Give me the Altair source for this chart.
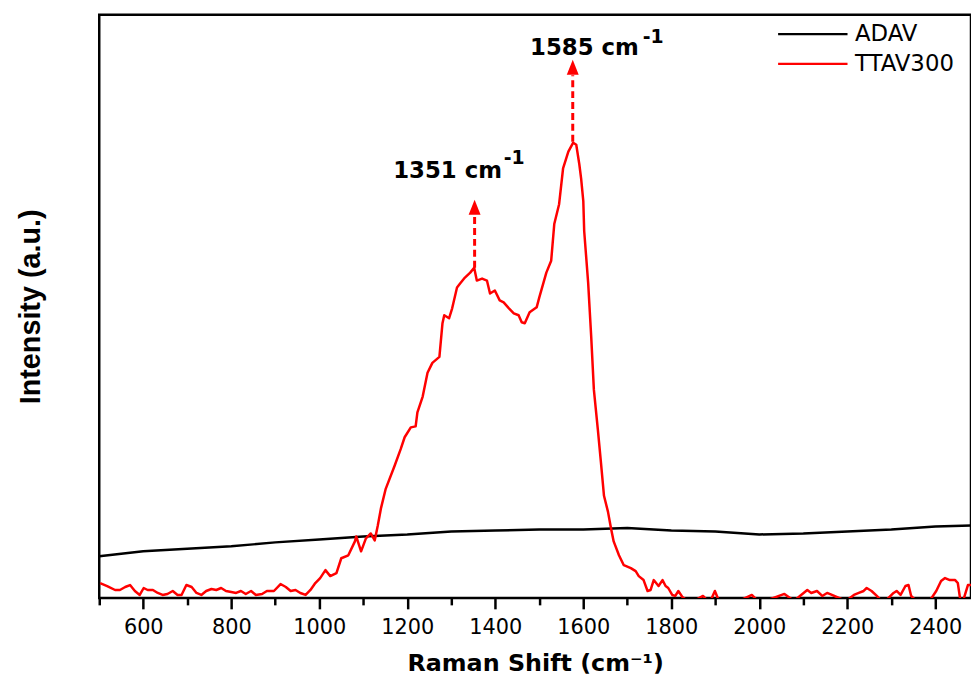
import altair as alt
import pandas as pd

# ---------------- data ----------------
series_names = ["ADAV", "TTAV300"]
series_colors = ["#000000", "#ff0000"]

adav_x = [500, 600, 700, 800, 900, 1000, 1100, 1200, 1300, 1400, 1500, 1600,
          1700, 1800, 1900, 2000, 2100, 2200, 2300, 2400, 2483]
adav_y = [42, 47, 49.5, 52, 56, 59, 62, 64, 67, 68, 69, 69,
          70.5, 68, 67, 64, 65, 67, 69, 72, 73]

ttav_x = [502, 518, 536, 547, 559, 570, 581, 592, 601, 610, 622, 633, 644, 655, 667, 678, 687,
          698, 710, 721, 732, 743, 755, 766, 777, 788, 800, 811, 822, 833, 845, 856, 870, 881,
          897, 912, 924, 935, 946, 957, 969, 980, 991, 1002, 1014, 1025, 1039, 1050, 1066,
          1081, 1084, 1095, 1106, 1117, 1126, 1133, 1140, 1151, 1171, 1185, 1194, 1208, 1219,
          1223, 1235, 1246, 1257, 1273, 1280, 1284, 1295, 1302, 1313, 1320, 1331, 1343, 1352,
          1358, 1370, 1381, 1388, 1399, 1410, 1419, 1431, 1442, 1453, 1460, 1467, 1478, 1494,
          1500, 1516, 1527, 1534, 1545, 1554, 1566, 1577, 1584, 1591, 1595, 1600, 1602, 1611,
          1618, 1624, 1633, 1640, 1647, 1656, 1663, 1669, 1681, 1692, 1708, 1719, 1726, 1737,
          1746, 1753, 1760, 1771, 1780, 1787, 1793, 1802, 1809, 1816, 1825, 1843, 1872, 1887,
          1899, 1910, 1944, 1983, 2001, 2057, 2079, 2095, 2109, 2118, 2131, 2143, 2154, 2165,
          2181, 2197, 2215, 2226, 2237, 2244, 2255, 2267, 2282, 2305, 2312, 2321, 2332, 2339,
          2345, 2361, 2384, 2402, 2413, 2422, 2433, 2445, 2451, 2456, 2463, 2474, 2483]
ttav_y = [15, 12, 8, 8, 11, 13, 7, 3, 10, 8, 8, 5, 3, 4, 7, 3, 3,
          13, 11, 5, 3, 7, 9, 8, 10, 7, 6, 5, 7, 4, 7, 3, 4, 7,
          7, 14, 11, 7, 8, 5, 3, 8, 15, 20, 28, 22, 25, 40, 43,
          57, 62, 47, 60, 65, 58, 73, 90, 110, 133, 150, 162, 172, 173,
          187, 203, 227, 237, 243, 277, 285, 282, 292, 313, 317, 323, 328, 333,
          320, 322, 320, 307, 310, 300, 298, 292, 287, 285, 278, 277, 288, 293,
          303, 328, 340, 377, 397, 433, 450, 459, 457, 437, 423, 400, 370, 318,
          263, 210, 170, 137, 103, 87, 70, 57, 43, 33, 30, 27, 22, 18,
          7, 8, 18, 12, 18, 12, 10, 3, 2, 7, 1, -5, 2, -5,
          7, -5, -5, 3, -5, 4, -3, 3, 8, 5, 7, 2, 5, 3,
          0, -3, 3, 5, 7, 10, 7, 2, -5, 5, 7, 3, 12, 13,
          2, -5, -5, 7, 17, 20, 18, 18, 15, 0, -3, 13, 13]

tick_values = [500, 600, 700, 800, 900, 1000, 1100, 1200, 1300, 1400, 1500, 1600,
               1700, 1800, 1900, 2000, 2100, 2200, 2300, 2400]

arrow_x = [1353, 1576]
arrow_base = [333, 460]
arrow_top = [387, 527]
arrow_tip = [394, 535]

label_text = ["1351 cm", "1585 cm"]
label_end_x = [1415, 1726]
label_y = [423, 547]
sup_text = ["-1", "-1"]
sup_x = [1419, 1735]
sup_y = [438, 560]

# ---------------- tables ----------------
lines_df = pd.DataFrame({
    "x": adav_x + ttav_x,
    "y": adav_y + ttav_y,
    "series": [series_names[0]] * len(adav_x) + [series_names[1]] * len(ttav_x),
})
arrows_df = pd.DataFrame({"x": arrow_x, "y": arrow_base, "y1": arrow_top})
heads_df = pd.DataFrame({"x": arrow_x, "y": arrow_tip})
labels_df = pd.DataFrame({"x": label_end_x, "y": label_y, "t": label_text})
sups_df = pd.DataFrame({"x": sup_x, "y": sup_y, "t": sup_text})

FONT = "DejaVu Sans"
xscale = alt.Scale(domain=[500, 2481], nice=False, zero=False)
yscale = alt.Scale(domain=[0, 588], nice=False, zero=False)

xaxis = alt.Axis(
    values=tick_values, format="d", orient="bottom", grid=False, domain=False,
    ticks=True, tickWidth=2.5, tickColor="black",
    tickSize={"condition": {"test": "datum.value % 200 != 0", "value": 7}, "value": 11},
    labelExpr="datum.value % 200 == 0 ? datum.label : ''",
    labelFont=FONT, labelFontSize=21, labelColor="black", labelPadding=8,
    title="Raman Shift (cm⁻¹)", titleFont=FONT, titleFontSize=24,
    titleFontWeight="bold", titleColor="black", titlePadding=14)

yaxis = alt.Axis(
    labels=False, ticks=False, domain=False, grid=False,
    title="Intensity (a.u.)",
    titleFont="Liberation Sans Narrow, Arial Narrow, Liberation Sans",
    titleFontSize=29, titleFontWeight="bold", titleColor="black", titlePadding=54)

X = alt.X("x:Q", scale=xscale, axis=xaxis)
Y = alt.Y("y:Q", scale=yscale, axis=yaxis)

lines = alt.Chart(lines_df).mark_line(clip=True, strokeJoin="round", strokeWidth=2.5).encode(
    x=X, y=Y,
    color=alt.Color("series:N", scale=alt.Scale(domain=series_names, range=series_colors),
                    legend=alt.Legend(orient="none", legendX=708, legendY=8, title=None,
                                      symbolType="M-5,0H5", symbolSize=196,
                                      symbolStrokeWidth=2.2, symbolFillColor="transparent",
                                      labelFont=FONT, labelFontSize=23, labelColor="black",
                                      labelOffset=31, rowPadding=6, padding=0)),
)

rules = alt.Chart(arrows_df).mark_rule(color="#ff0000", strokeWidth=3, strokeDash=[7, 4]).encode(
    x=X, y=Y, y2="y1:Q",
)

heads = alt.Chart(heads_df).mark_point(
    shape="M0,-1.2L-0.95,1.2L0.95,1.2Z", filled=True, color="#ff0000", opacity=1, size=160
).encode(x=X, y=Y)

labels = alt.Chart(labels_df).mark_text(
    font=FONT, fontSize=23, fontWeight="bold", color="black", align="right", baseline="alphabetic"
).encode(x=X, y=Y, text="t:N")

sups = alt.Chart(sups_df).mark_text(
    font=FONT, fontSize=19, fontWeight="bold", color="black", align="left", baseline="alphabetic"
).encode(x=X, y=Y, text="t:N")

chart = alt.layer(lines, rules, heads, labels, sups).properties(
    width=879, height=588,
    autosize=alt.AutoSizeParams(type="none"),
    padding={"left": 92, "top": 4, "right": 0, "bottom": 88},
).configure_view(stroke="black", strokeWidth=2.5)

chart.save("out.html", embed_options={"renderer": "svg", "actions": False})
